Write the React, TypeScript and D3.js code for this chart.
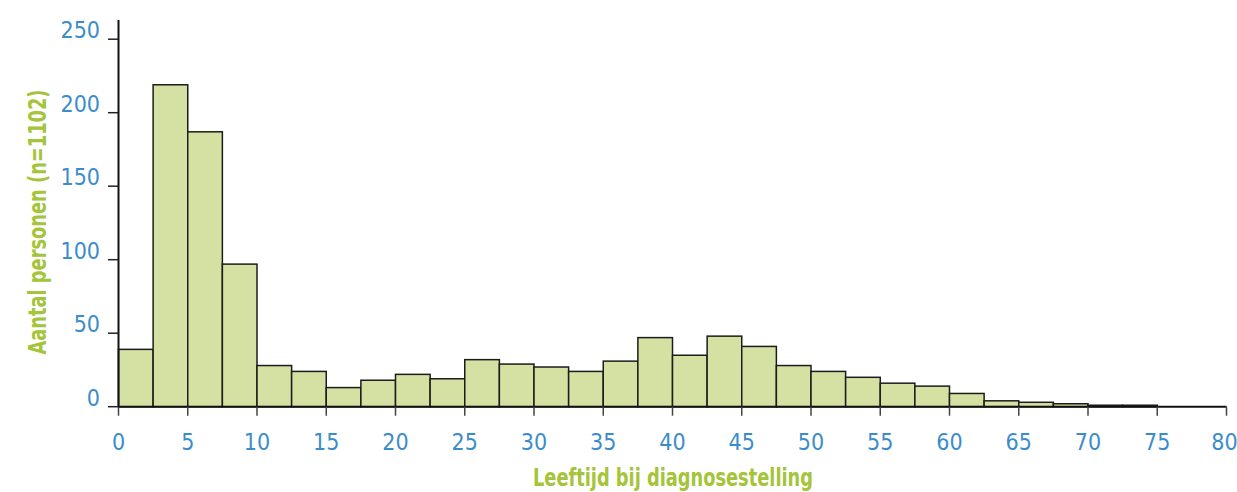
import React from "react";
import * as d3 from "d3";

// bin edges (years) and counts per 2.5-year bin
const binStarts = [
  0, 2.5, 5, 7.5, 10, 12.5, 15, 17.5, 20, 22.5, 25, 27.5, 30, 32.5, 35, 37.5,
  40, 42.5, 45, 47.5, 50, 52.5, 55, 57.5, 60, 62.5, 65, 67.5, 70, 72.5, 75, 77.5,
];
const counts = [
  39, 219, 187, 97, 28, 24, 13, 18, 22, 19, 32, 29, 27, 24, 31, 47,
  35, 48, 41, 28, 24, 20, 16, 14, 9, 4, 3, 2, 1, 1, 0, 0,
];
const binWidth = 2.5;
const xTicks = [0, 5, 10, 15, 20, 25, 30, 35, 40, 45, 50, 55, 60, 65, 70, 75, 80];
const yTicks = [0, 50, 100, 150, 200, 250];

const xTitle = "Leeftijd bij diagnosestelling";
const yTitle = "Aantal personen (n=1102)";

export default function App() {
  const w = 1237,
    h = 492;

  const x = d3.scaleLinear().domain([0, 80]).range([118.5, 1226.5]);
  const y = d3.scaleLinear().domain([0, 250]).range([406.7, 39.2]);

  const blue = "#3b8ccb";
  const green = "#a4c43a";
  const font = "'DejaVu Sans Condensed', 'Liberation Sans Narrow', Arial, sans-serif";

  const bars = binStarts.map((s, i) =>
    counts[i] > 0 ? (
      <rect
        key={i}
        x={x(s)}
        y={y(counts[i])}
        width={x(s + binWidth) - x(s)}
        height={y(0) - y(counts[i])}
        fill="#d5e1a2"
        stroke="#1c1c1c"
        strokeWidth={1.5}
      />
    ) : null
  );

  const xAxis = xTicks.map((d, i) => (
    <g key={i}>
      <line x1={x(d)} x2={x(d)} y1={y(0)} y2={y(0) + 9} stroke="#444" strokeWidth={1.5} />
      <text
        x={d === 80 ? x(d) - 2 : x(d)}
        y={450}
        textAnchor="middle"
        fill={blue}
        fontSize={23}
        fontFamily={font}
      >
        {d}
      </text>
    </g>
  ));

  const yAxis = yTicks.map((d, i) => (
    <g key={i}>
      <line x1={108} x2={x(0)} y1={y(d)} y2={y(d)} stroke="#222" strokeWidth={1.5} />
      <text
        x={100}
        y={y(d) - 1}
        textAnchor="end"
        fill={blue}
        fontSize={23}
        fontFamily={font}
      >
        {d}
      </text>
    </g>
  ));

  return (
    <svg
      width={w}
      height={h}
      style={{ position: "absolute", left: 0, top: 0, background: "#fff" }}
    >
      {bars}
      <line x1={x(0)} x2={x(0)} y1={20} y2={y(0)} stroke="#111" strokeWidth={2} />
      <line x1={x(0)} x2={x(80)} y1={y(0)} y2={y(0)} stroke="#111" strokeWidth={2} />
      {xAxis}
      {yAxis}
      <text
        x={673}
        y={486}
        textAnchor="middle"
        fill={green}
        fontSize={24}
        fontWeight="bold"
        fontFamily={font}
        textLength={280}
        lengthAdjust="spacingAndGlyphs"
      >
        {xTitle}
      </text>
      <text
        transform="translate(46,222) rotate(-90)"
        textAnchor="middle"
        fill={green}
        fontSize={24}
        fontWeight="bold"
        fontFamily={font}
        textLength={265}
        lengthAdjust="spacingAndGlyphs"
      >
        {yTitle}
      </text>
    </svg>
  );
}
